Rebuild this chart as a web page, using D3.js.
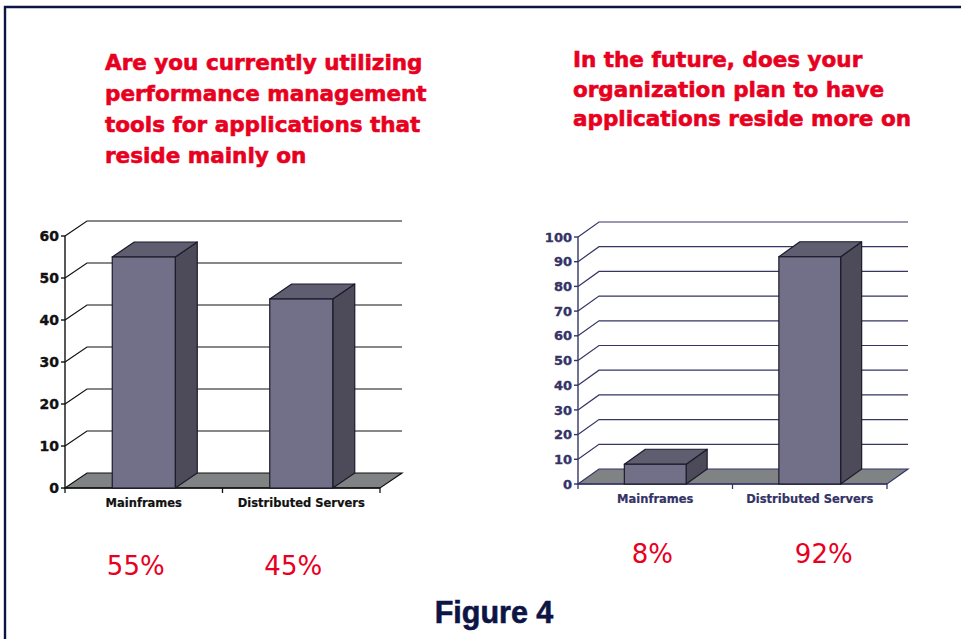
<!DOCTYPE html>
<html>
<head>
<meta charset="utf-8">
<script src="https://cdn.jsdelivr.net/npm/d3@7"></script>
<style>
  html, body { margin: 0; padding: 0; background: #ffffff; }
  svg { display: block; }
</style>
</head>
<body>
<svg id="chart" width="961" height="639"></svg>
<script>
// ---------- DATA ----------
const categories = ["Mainframes", "Distributed Servers"];
const currentValues = [55, 45];
const futureValues = [8, 92];
const currentTicks = [0, 10, 20, 30, 40, 50, 60];
const futureTicks = [0, 10, 20, 30, 40, 50, 60, 70, 80, 90, 100];
const currentPctLabels = ["55%", "45%"];
const futurePctLabels = ["8%", "92%"];
const currentTitleLines = ["Are you currently utilizing", "performance management", "tools for applications that", "reside mainly on"];
const futureTitleLines = ["In the future, does your", "organization plan to have", "applications reside more on"];
const figureCaption = "Figure 4";

// ---------- STYLE ----------
const RED = "#e8001f";
const NAVY = "#0d1545";
const svg = d3.select("#chart");

// border (top and left edges)
svg.append("path")
  .attr("d", d3.line()([[5, 639], [5, 7], [961, 7]]))
  .attr("fill", "none").attr("stroke", NAVY).attr("stroke-width", 2.4);

function drawTitle(lines, x, y0, lh) {
  const t = svg.append("text")
    .attr("font-family", "DejaVu Sans, Verdana, sans-serif")
    .attr("font-weight", "bold").attr("font-size", 21.5)
    .attr("fill", RED).attr("stroke", RED).attr("stroke-width", 0.6);
  t.selectAll("tspan").data(lines).join("tspan")
    .attr("x", x).attr("y", (d, i) => y0 + i * lh).text(d => d);
}
drawTitle(currentTitleLines, 105, 69.5, 31);
drawTitle(futureTitleLines, 573, 66.7, 29.8);

function draw3D(cfg) {
  const g = svg.append("g");
  const y = d3.scaleLinear().domain([0, d3.max(cfg.ticks)]).range([cfg.y0, cfg.yTop]);
  const x = d3.scaleBand().domain(categories).range([cfg.x0, cfg.x1])
    .paddingInner(0.6).paddingOuter(0.3);
  const dx = cfg.dx, dy = cfg.dy;
  const line = d3.line();

  // back gridlines with diagonals
  cfg.ticks.forEach(t => {
    if (t === 0) return;
    g.append("path")
      .attr("d", line([[cfg.x0, y(t)], [cfg.x0 + dx, y(t) + dy], [cfg.x1 + dx, y(t) + dy]]))
      .attr("fill", "none").attr("stroke", cfg.lineColor).attr("stroke-width", 1.2);
  });

  // floor
  g.append("path")
    .attr("d", line([[cfg.x0, cfg.y0], [cfg.x0 + dx, cfg.y0 + dy], [cfg.x1 + dx, cfg.y0 + dy], [cfg.x1, cfg.y0]]) + "Z")
    .attr("fill", "#808384").attr("stroke", cfg.lineColor).attr("stroke-width", 1.2);

  // y axis
  g.append("line").attr("x1", cfg.x0).attr("x2", cfg.x0).attr("y1", cfg.y0).attr("y2", y(d3.max(cfg.ticks)))
    .attr("stroke", cfg.lineColor).attr("stroke-width", 1.4);
  cfg.ticks.forEach(t => {
    g.append("line").attr("x1", cfg.x0 - 4).attr("x2", cfg.x0).attr("y1", y(t)).attr("y2", y(t))
      .attr("stroke", cfg.lineColor).attr("stroke-width", 1.4);
    g.append("text").attr("x", cfg.x0 - 6).attr("y", y(t)).attr("dy", "0.36em")
      .attr("text-anchor", "end")
      .attr("font-family", "DejaVu Sans, Verdana, sans-serif").attr("font-weight", "bold")
      .attr("font-size", cfg.tickSize).attr("fill", cfg.textColor)
      .attr("stroke", cfg.textColor).attr("stroke-width", 0.35).text(t);
  });

  // x axis
  g.append("line").attr("x1", cfg.x0).attr("x2", cfg.x1).attr("y1", cfg.y0).attr("y2", cfg.y0)
    .attr("stroke", cfg.lineColor).attr("stroke-width", 1.4);
  const step = x.step();
  [0, 1, 2].forEach(i => {
    const xx = cfg.x0 + i * step;
    g.append("line").attr("x1", xx).attr("x2", xx).attr("y1", cfg.y0).attr("y2", cfg.y0 + 5)
      .attr("stroke", cfg.lineColor).attr("stroke-width", 1.3);
  });

  // bars
  cfg.values.forEach((v, i) => {
    const c = categories[i];
    const xl = x(c), xr = x(c) + x.bandwidth(), yt = y(v), yb = cfg.y0;
    const stroke = "#1c1b2a";
    g.append("path")
      .attr("d", line([[xr, yt], [xr + dx, yt + dy], [xr + dx, yb + dy], [xr, yb]]) + "Z")
      .attr("fill", "#4d4b59").attr("stroke", stroke).attr("stroke-width", 1.2).attr("stroke-linejoin", "round");
    g.append("path")
      .attr("d", line([[xl, yt], [xl + dx, yt + dy], [xr + dx, yt + dy], [xr, yt]]) + "Z")
      .attr("fill", "#5f5d70").attr("stroke", stroke).attr("stroke-width", 1.2).attr("stroke-linejoin", "round");
    g.append("rect").attr("x", xl).attr("y", yt).attr("width", x.bandwidth()).attr("height", yb - yt)
      .attr("fill", "#727089").attr("stroke", stroke).attr("stroke-width", 1.2);
    g.append("text").attr("x", x(c) + x.bandwidth() / 2).attr("y", cfg.catY)
      .attr("text-anchor", "middle")
      .attr("font-family", "DejaVu Sans, Verdana, sans-serif").attr("font-weight", "bold")
      .attr("font-size", 11.5).attr("fill", cfg.textColor)
      .attr("stroke", cfg.textColor).attr("stroke-width", 0.2).text(c);
  });

  // percent labels
  cfg.pct.forEach((p, i) => {
    const c = categories[i];
    g.append("text").attr("x", x(c) + x.bandwidth() / 2 + cfg.pctOffset[i]).attr("y", cfg.pctY)
      .attr("text-anchor", "middle")
      .attr("font-family", "DejaVu Sans, Verdana, sans-serif")
      .attr("font-size", 26).attr("fill", RED).text(p);
  });
}

draw3D({
  values: currentValues, ticks: currentTicks, pct: currentPctLabels,
  x0: 65, x1: 380, y0: 488, yTop: 236, dx: 22, dy: -15,
  lineColor: "#111111", textColor: "#111111", tickSize: 14,
  catY: 507, pctY: 575, pctOffset: [-8, -8]
});

draw3D({
  values: futureValues, ticks: futureTicks, pct: futurePctLabels,
  x0: 578, x1: 887, y0: 484, yTop: 237, dx: 21, dy: -15,
  lineColor: "#353566", textColor: "#333366", tickSize: 13,
  catY: 503, pctY: 563, pctOffset: [-3, 14]
});

// caption
svg.append("text").attr("x", 494).attr("y", 623).attr("text-anchor", "middle")
  .attr("font-family", "Liberation Sans, Arial, sans-serif").attr("font-weight", "bold")
  .attr("font-size", 30.5).attr("fill", NAVY).attr("stroke", NAVY).attr("stroke-width", 0.6)
  .text(figureCaption);
</script>
</body>
</html>
